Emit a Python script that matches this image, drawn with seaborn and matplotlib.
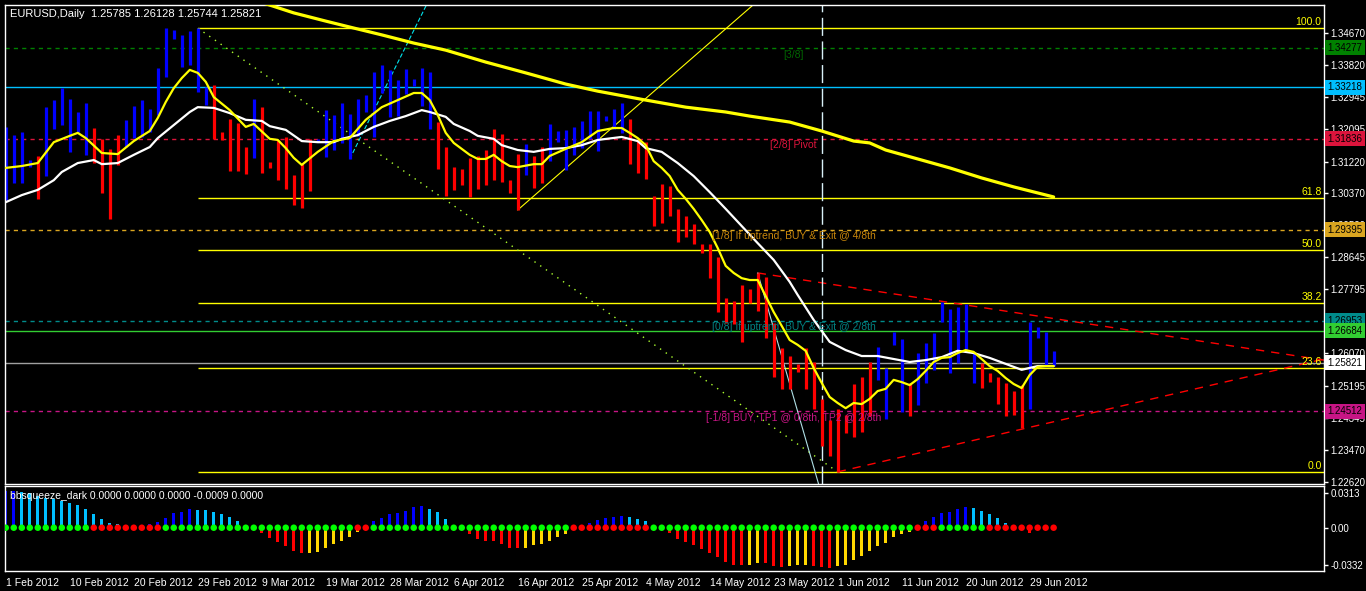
import matplotlib
matplotlib.use("Agg")
import numpy as np
import pandas as pd
import matplotlib.pyplot as plt
import seaborn as sns
from matplotlib.transforms import blended_transform_factory

# ---------------- data ----------------
title = "EURUSD,Daily  1.25785 1.26128 1.25744 1.25821"
osc_title = "bbsqueeze_dark 0.0000 0.0000 0.0000 -0.0009 0.0000"

highs = [1.3215, 1.3193, 1.3201, 1.3126, 1.3137, 1.3268, 1.3287, 1.3319, 1.3290, 1.3255,
         1.3279, 1.3212, 1.3183, 1.3156, 1.3193, 1.3234, 1.3271, 1.3287, 1.3263, 1.3373,
         1.3480, 1.3475, 1.3462, 1.3472, 1.3480, 1.3322, 1.3327, 1.3201, 1.3236, 1.3225,
         1.3161, 1.3290, 1.3268, 1.3121, 1.3180, 1.3188, 1.3086, 1.3115, 1.3183, 1.3183,
         1.3260, 1.3247, 1.3279, 1.3250, 1.3290, 1.3301, 1.3362, 1.3381, 1.3368, 1.3341,
         1.3370, 1.3344, 1.3373, 1.3362, 1.3228, 1.3161, 1.3107, 1.3102, 1.3132, 1.3137,
         1.3153, 1.3209, 1.3196, 1.3072, 1.3142, 1.3169, 1.3137, 1.3161, 1.3223, 1.3204,
         1.3207, 1.3215, 1.3231, 1.3258, 1.3258, 1.3244, 1.3263, 1.3279, 1.3236, 1.3183,
         1.3174, 1.3030, 1.3062, 1.3056, 1.2995, 1.2976, 1.2954, 1.2901, 1.2901, 1.2866,
         1.2756, 1.2748, 1.2791, 1.2780, 1.2823, 1.2812, 1.2689, 1.2622, 1.2600, 1.2579,
         1.2622, 1.2584, 1.2485, 1.2428, 1.2458, 1.2442, 1.2525, 1.2544, 1.2584, 1.2624,
         1.2568, 1.2665, 1.2646, 1.2528, 1.2608, 1.2635, 1.2662, 1.2745, 1.2726, 1.2732,
         1.2740, 1.2608, 1.2581, 1.2554, 1.2544, 1.2528, 1.2506, 1.2522, 1.2691, 1.2678,
         1.2665, 1.2613]
lows = [1.3019, 1.3064, 1.3064, 1.3107, 1.3022, 1.3083, 1.3209, 1.3220, 1.3148, 1.3201,
        1.3140, 1.3118, 1.3038, 1.2968, 1.3113, 1.3161, 1.3185, 1.3188, 1.3201, 1.3247,
        1.3349, 1.3451, 1.3376, 1.3381, 1.3309, 1.3274, 1.3183, 1.3180, 1.3097, 1.3097,
        1.3089, 1.3132, 1.3091, 1.3105, 1.3072, 1.3048, 1.3005, 1.2997, 1.3043, 1.3174,
        1.3134, 1.3153, 1.3172, 1.3129, 1.3191, 1.3255, 1.3188, 1.3306, 1.3242, 1.3244,
        1.3303, 1.3325, 1.3271, 1.3209, 1.3102, 1.3030, 1.3046, 1.3059, 1.3027, 1.3048,
        1.3059, 1.3072, 1.3067, 1.3038, 1.2992, 1.3086, 1.3051, 1.3064, 1.3123, 1.3174,
        1.3099, 1.3140, 1.3158, 1.3183, 1.3150, 1.3231, 1.3209, 1.3199, 1.3115, 1.3091,
        1.3075, 1.2949, 1.2957, 1.2976, 1.2906, 1.2920, 1.2901, 1.2877, 1.2809, 1.2718,
        1.2689, 1.2686, 1.2638, 1.2742, 1.2721, 1.2648, 1.2544, 1.2512, 1.2512, 1.2557,
        1.2512, 1.2458, 1.2359, 1.2332, 1.2289, 1.2393, 1.2383, 1.2396, 1.2439, 1.2536,
        1.2431, 1.2630, 1.2450, 1.2439, 1.2469, 1.2528, 1.2563, 1.2691, 1.2554, 1.2581,
        1.2611, 1.2528, 1.2514, 1.2530, 1.2471, 1.2439, 1.2442, 1.2407, 1.2458, 1.2648,
        1.2576, 1.2574]
# U = up bar (blue), D = down bar (red)
bar_dir = ("UUUUDUUUUU UDDDDUUUUU UUUUUUDDDD DUDDDDDDDU UUUUUUUUUU UUUUDDDDDD "
           "DDDDDUDDUU UUUUUUUUDD DDDDDDDDDD DDDDDDDDDD DDDDDDDDDU UUUDUUUUUU "
           "UUDDDDDDUU UU").replace(" ", "")

fast_idx = [0, 2, 4, 6, 8, 9, 10, 12, 14, 16, 18, 19, 20, 21, 22, 23, 24, 25, 26, 28,
            30, 31, 33, 34, 35, 36, 37, 39, 41, 43, 45, 47, 49, 51, 52, 53, 54, 55, 56, 58,
            59, 60, 61, 62, 63, 64, 66, 67, 68, 70, 72, 74, 76, 77, 78, 79, 80,
            81, 82, 83, 84, 85, 86, 87, 88, 89, 90, 91, 92, 93, 94, 95, 96, 97, 98, 99,
            100, 101, 102, 103, 104, 105, 106, 107, 108, 109, 110, 111, 112, 113, 114,
            115, 116, 117, 118, 119, 120, 121, 122, 123, 124, 125, 126, 127, 128, 129,
            130, 131]
fast_val = [1.3105, 1.3110, 1.3118, 1.3174, 1.3191, 1.3199, 1.3185, 1.3145, 1.3142, 1.3177,
            1.3204, 1.3239, 1.3282, 1.3319, 1.3346, 1.3368, 1.3360, 1.3336, 1.3295, 1.3260,
            1.3215, 1.3223, 1.3183, 1.3180, 1.3158, 1.3132, 1.3113, 1.3148, 1.3177, 1.3185,
            1.3234, 1.3268, 1.3287, 1.3306, 1.3306, 1.3287, 1.3247, 1.3199, 1.3172, 1.3140,
            1.3129, 1.3129, 1.3140, 1.3123, 1.3110, 1.3107, 1.3115, 1.3115, 1.3137, 1.3156,
            1.3174, 1.3204, 1.3212, 1.3212, 1.3199, 1.3185, 1.3166,
            1.3123, 1.3105, 1.3083, 1.3046, 1.3022, 1.2995, 1.2965, 1.2933, 1.2890, 1.2842,
            1.2823, 1.2809, 1.2804, 1.2804, 1.2761, 1.2718, 1.2681, 1.2643, 1.2630, 1.2614,
            1.2568, 1.2528, 1.2490, 1.2474, 1.2460, 1.2474, 1.2471, 1.2485, 1.2506, 1.2512,
            1.2536, 1.2530, 1.2522, 1.2538, 1.2560, 1.2584, 1.2595, 1.2597, 1.2608, 1.2616,
            1.2611, 1.2592, 1.2573, 1.2560, 1.2541, 1.2525, 1.2514, 1.2549, 1.2571, 1.2573,
            1.2573]

slow_idx = [0, 2, 4, 6, 7, 9, 11, 12, 14, 16, 18, 19, 21, 23, 24, 26, 28, 30, 32, 33,
            35, 37, 39, 41, 42, 43, 44, 46, 48, 50, 52, 53, 55, 56, 58, 59, 61, 62, 64, 66,
            68, 70, 72, 74, 77, 79, 80, 82, 84, 86, 88, 90, 92, 94, 96, 98, 99, 101, 103,
            105, 107, 109, 111, 113, 115, 117, 119, 121, 123, 125, 127, 129, 131]
slow_val = [1.3013, 1.3032, 1.3046, 1.3072, 1.3094, 1.3118, 1.3126, 1.3115, 1.3118, 1.3140,
            1.3161, 1.3185, 1.3220, 1.3255, 1.3268, 1.3266, 1.3252, 1.3234, 1.3231, 1.3217,
            1.3207, 1.3177, 1.3174, 1.3174, 1.3183, 1.3188, 1.3193, 1.3215, 1.3231, 1.3244,
            1.3260, 1.3255, 1.3242, 1.3223, 1.3204, 1.3191, 1.3183, 1.3166, 1.3153, 1.3148,
            1.3156, 1.3158, 1.3166, 1.3180, 1.3188, 1.3177, 1.3158, 1.3148, 1.3118, 1.3083,
            1.3040, 1.2995, 1.2949, 1.2903, 1.2858, 1.2799, 1.2764, 1.2697, 1.2638, 1.2616,
            1.2600, 1.2600, 1.2592, 1.2584, 1.2589, 1.2597, 1.2614, 1.2608, 1.2595, 1.2579,
            1.2563, 1.2573, 1.2573]

long_idx = [30, 33, 36, 40, 43, 47, 51, 55, 60, 65, 70, 74, 80, 85, 90, 93, 98, 102, 106,
            108, 110, 114, 118, 122, 126, 131]
long_val = [1.3562, 1.3542, 1.3521, 1.3499, 1.3483, 1.3462, 1.3440, 1.3421, 1.3389, 1.3360,
            1.3330, 1.3311, 1.3287, 1.3268, 1.3255, 1.3244, 1.3228, 1.3204, 1.3177, 1.3172,
            1.3153, 1.3129, 1.3105, 1.3078, 1.3054, 1.3027]

# bbsqueeze histogram
sq_val = [0.0329, 0.0329, 0.0323, 0.0308, 0.0284, 0.0263, 0.0254, 0.0242, 0.0224, 0.0203,
          0.0164, 0.0122, 0.0075, 0.0045, 0.0030, 0.0005, 0.0005, 0.0008, 0.0033, 0.0054,
          0.0090, 0.0128, 0.0140, 0.0167, 0.0158, 0.0155, 0.0137, 0.0119, 0.0099, 0.0060,
          0.0000, 0.0000, -0.0045, -0.0090, -0.0125, -0.0161, -0.0206, -0.0230, -0.0230, -0.0215,
          -0.0185, -0.0146, -0.0116, -0.0081, -0.0036, 0.0000, 0.0060, 0.0090, 0.0122, 0.0131,
          0.0149, 0.0185, 0.0197, 0.0167, 0.0137, 0.0078, 0.0015, 0.0000, -0.0060, -0.0099,
          -0.0116, -0.0116, -0.0143, -0.0179, -0.0179, -0.0179, -0.0158, -0.0146, -0.0116, -0.0081,
          -0.0060, -0.0010, 0.0000, 0.0039, 0.0069, 0.0090, 0.0096, 0.0108, 0.0096, 0.0078,
          0.0057, 0.0000, 0.0000, -0.0051, -0.0099, -0.0125, -0.0158, -0.0194, -0.0224, -0.0266,
          -0.0305, -0.0334, -0.0334, -0.0334, -0.0314, -0.0320, -0.0340, -0.0349, -0.0343, -0.0334,
          -0.0337, -0.0343, -0.0356, -0.0358, -0.0340, -0.0331, -0.0290, -0.0254, -0.0209, -0.0161,
          -0.0134, -0.0081, -0.0060, -0.0036, 0.0000, 0.0060, 0.0099, 0.0134, 0.0143, 0.0167,
          0.0188, 0.0179, 0.0152, 0.0125, 0.0090, 0.0045, 0.0000, 0.0000, -0.0045, -0.0010,
          0.0000, -0.0009]
# B = rising positive, L = falling positive, R = falling negative, G = rising negative
sq_col = ("BBLLLLLLLL LLLLLLLLBB BBBBLLLLLL LLRRRRRRGG GGGGGRBBBB BBBLLLLRRR "
          "RRRRRGGGGG GGGBBBBBLL LLLRRRRRRR RRRGGRRRGG GRRRGGGGGG GGGGBBBBBB "
          "BLLLLLLLRR RR").replace(" ", "")
# E = no squeeze (green dot), S = squeeze (red dot)
sq_dot = ("EEEEEEEEEE ESSSSSSSSS EEEEEEEEEE EEEEEEEEEE EEEESSEEEE EEEEEEEEEE "
          "EEEEEEEEEE ESSSSSSSSS SEEEEEEEEE EEEEEEEEEE EEEEEEEEEE EEEESSSEEE "
          "EEESSSSSSS SS").replace(" ", "")

date_ticks = ["1 Feb 2012", "10 Feb 2012", "20 Feb 2012", "29 Feb 2012", "9 Mar 2012",
              "19 Mar 2012", "28 Mar 2012", "6 Apr 2012", "16 Apr 2012", "25 Apr 2012",
              "4 May 2012", "14 May 2012", "23 May 2012", "1 Jun 2012", "11 Jun 2012",
              "20 Jun 2012", "29 Jun 2012"]
price_ticks = [1.34670, 1.33820, 1.32945, 1.32095, 1.31220, 1.30370, 1.29520, 1.28645,
               1.27795, 1.26070, 1.25195, 1.24345, 1.23470, 1.22620]

fib_levels = ["100.0", "61.8", "50.0", "38.2", "23.6", "0.0"]
fib_prices = [1.3480, 1.3023, 1.2885, 1.2742, 1.2567, 1.2288]

# horizontal levels with their label-box colours
level_prices = [1.34277, 1.33218, 1.31836, 1.29395, 1.26953, 1.26684, 1.25821, 1.24512]
level_colors = ["#008000", "#00BFFF", "#DC143C", "#DAA520", "#008B8B", "#32CD32", "#A0A0A0", "#C71585"]
level_box = ["#008000", "#00BFFF", "#DC143C", "#DAA520", "#008B8B", "#32CD32", "#FFFFFF", "#C71585"]
level_dashed = [True, False, True, True, True, False, False, True]

mm_labels = ["[3/8]", "[2/8] Pivot", "[1/8] If uptrend, BUY & Exit @ 4/8th",
             "[0/8] If uptrend, BUY & Exit @ 2/8th", "[-1/8] BUY, TP1 @ 0/8th, TP2 @ 2/8th"]
mm_prices = [1.34277, 1.31836, 1.29395, 1.26953, 1.24512]
mm_colors = ["#006400", "#DC143C", "#C8860B", "#008080", "#C71585"]

# ---------------- figure ----------------
W, H = 1366, 591
sns.set_theme(style="dark")
plt.rcParams["font.family"] = ["Liberation Sans", "DejaVu Sans"]
fig = plt.figure(figsize=(W / 100, H / 100), dpi=100, facecolor="black")

ax = fig.add_axes([5 / W, (H - 484) / H, 1319 / W, 479 / H], facecolor="black")
ax2 = fig.add_axes([5 / W, (H - 571) / H, 1319 / W, 85 / H], facecolor="black")

n = len(highs)
assert len(lows) == n and len(bar_dir) == n and len(sq_val) == n
assert len(sq_col) == n and len(sq_dot) == n
xs = np.arange(n)
XMAX = 164.8

for a in (ax, ax2):
    a.set_xlim(-0.1, XMAX)
    a.grid(False)
    for s in a.spines.values():
        s.set_color("white")
        s.set_linewidth(1)

ax.set_ylim(1.22565, 1.35422)

# horizontal levels
for p, c, d in zip(level_prices, level_colors, level_dashed):
    ax.axhline(p, color=c, lw=1, ls=(0, (3, 3)) if d else "-", zorder=1)

# fibonacci
for lab, p in zip(fib_levels, fib_prices):
    ax.hlines(p, 24, XMAX, color="#FFFF00", lw=1, zorder=1)
    ax.text(XMAX - 0.3, p + 0.0003, lab, color="#FFFF00", fontsize=7.5, ha="right", va="bottom")
ax.plot([24, 104], [1.3480, 1.2289], color="#ADFF2F", lw=1, ls=(0, (1, 4)), zorder=1)

# trend lines
ax.plot([94, XMAX], [1.2823, 1.2589], color="#FF0000", lw=1, ls=(0, (6, 5)), zorder=1)
ax.plot([104, XMAX], [1.2289, 1.2592], color="#FF0000", lw=1, ls=(0, (6, 5)), zorder=1)
ax.plot([64, 94], [1.2992, 1.3553], color="#FFFF00", lw=0.8, zorder=1)
ax.plot([43, 53], [1.3129, 1.3560], color="#00E5EE", lw=0.8, ls=(0, (4, 2)), zorder=1)
ax.plot([94, 101.7], [1.2823, 1.2250], color="#B0E0E6", lw=0.8, zorder=1)
ax.axvline(102, color="#D8F0F8", lw=1, ls=(0, (13, 4)), zorder=1)

# price bars
cols = ["#0000FF" if d == "U" else "#FF0000" for d in bar_dir]
ax.vlines(xs, lows, highs, colors=cols, lw=2.3, zorder=2)

# moving averages
sns.lineplot(x=long_idx, y=long_val, ax=ax, color="#FFFF00", lw=2.3, sort=False, estimator=None, zorder=3)
sns.lineplot(x=slow_idx, y=slow_val, ax=ax, color="#FFFFFF", lw=1.6, sort=False, estimator=None, zorder=4)
sns.lineplot(x=fast_idx, y=fast_val, ax=ax, color="#FFFF00", lw=1.6, sort=False, estimator=None, zorder=5)

# murrey labels
for lab, p, c in zip(mm_labels, mm_prices, mm_colors):
    ax.text(98.5, p - 0.0005, lab, color=c, fontsize=7.5, ha="center", va="top", zorder=6)

# right price axis
ax.yaxis.tick_right()
ax.set_yticks(price_ticks)
ax.set_yticklabels([f"{p:.5f}" for p in price_ticks])
ax.tick_params(axis="y", colors="white", labelcolor="white", direction="out", length=3,
               width=1, pad=1.5, labelsize=7)
ax.tick_params(axis="x", bottom=False, labelbottom=False)
ax.set_ylabel("")
ax.set_xlabel("")

tr = blended_transform_factory(ax.transAxes, ax.transData)
for p, bc in zip(level_prices, level_box):
    ax.text(1.0025, p, f"{p:.5f}", transform=tr, fontsize=7, color="black", ha="left",
            va="center", clip_on=False, zorder=10,
            bbox=dict(boxstyle="square,pad=0.25", fc=bc, ec="none"))

fig.text(10 / W, 1 - 14 / H, title, color="white", fontsize=8, va="center", ha="left")

# ---------------- bbsqueeze panel ----------------
ax2.set_ylim(-0.0388, 0.0374)
hcolor = {"B": "#0000FF", "L": "#00BFFF", "R": "#FF0000", "G": "#FFD700"}
ax2.bar(xs, sq_val, width=0.42, color=[hcolor[c] for c in sq_col], edgecolor="none",
        linewidth=0, zorder=2)
dots = pd.DataFrame({"x": xs, "y": np.zeros(n), "state": list(sq_dot)})
sns.scatterplot(data=dots, x="x", y="y", hue="state", palette={"E": "#00FF00", "S": "#FF0000"},
                s=22, linewidth=0, legend=False, ax=ax2, zorder=3)
ax2.set_xlabel("")
ax2.set_ylabel("")
ax2.yaxis.tick_right()
ax2.set_yticks([0.0313, 0.0, -0.0332])
ax2.set_yticklabels(["0.0313", "0.00", "-0.0332"])
ax2.tick_params(axis="y", colors="white", labelcolor="white", direction="out", length=3,
                width=1, pad=1.5, labelsize=7)
ax2.set_xticks(np.arange(0, 8 * len(date_ticks), 8))
ax2.set_xticklabels(date_ticks)
ax2.tick_params(axis="x", colors="white", labelcolor="white", direction="out", length=4,
                width=1, pad=1, labelsize=7.5)
for t in ax2.get_xticklabels():
    t.set_ha("left")
ax2.text(0.004, 0.88, osc_title, transform=ax2.transAxes, color="white", fontsize=7.5,
         ha="left", va="center", zorder=6)

fig.savefig("out.png", dpi=100, facecolor="black")
